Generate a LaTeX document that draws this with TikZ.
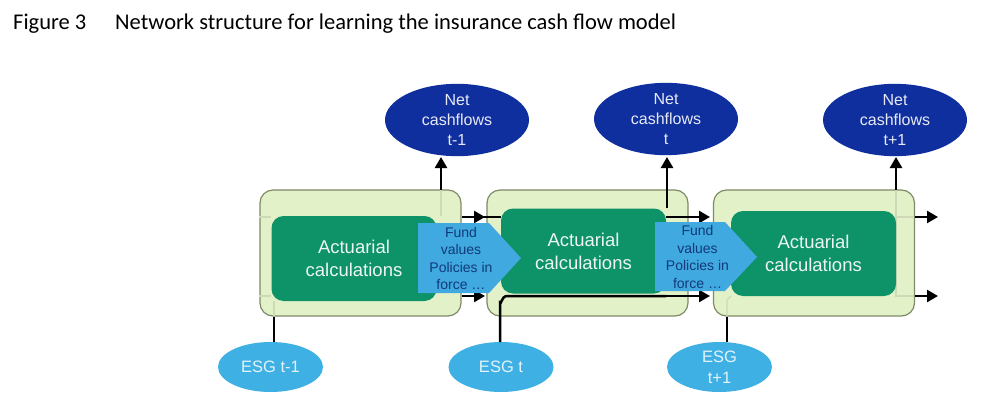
\documentclass[tikz,border=0pt]{standalone}
\usepackage{fontspec}
\setmainfont{Liberation Sans}
\newfontfamily\titlefont{Carlito}
\usetikzlibrary{calc,arrows.meta,shapes.geometric}
\definecolor{boxfill}{HTML}{E2F1C8}
\definecolor{boxline}{HTML}{7F8A66}
\definecolor{faintline}{HTML}{CFD9B8}
\definecolor{calcfill}{HTML}{0E9268}
\definecolor{tagfill}{HTML}{3FA9E0}
\definecolor{tagtext}{HTML}{123A7A}
\definecolor{netfill}{HTML}{0F2F9E}
\definecolor{esgfill}{HTML}{3FB0E3}
\tikzset{
    outerbox/.style={draw=boxline, fill=boxfill, line width=1.2pt, rounded corners=13pt,
        minimum width=201pt, minimum height=126pt},
    calcbox/.style={fill=calcfill, rounded corners=12pt, minimum width=165pt, minimum height=85pt,
        text=white!92!calcfill, font=\fontsize{18.5}{23}\selectfont, align=center},
    tagtxt/.style={text=tagtext, font=\fontsize{14}{17.5}\selectfont, align=center},
    netnode/.style={ellipse, fill=netfill, minimum width=144pt, minimum height=71pt, inner sep=0pt,
        text=white!90!netfill, font=\fontsize{16}{20}\selectfont, align=center},
    esgnode/.style={ellipse, fill=esgfill, minimum width=105pt, minimum height=50pt, inner sep=0pt,
        text=white!85!esgfill, font=\fontsize{16.5}{21}\selectfont, align=center},
    titletxt/.style={anchor=west, inner sep=0pt, font=\titlefont\fontsize{22.5}{26}\selectfont},
    flow/.style={line width=2.5pt, -{Triangle[length=11pt,width=12pt]}},
    wire/.style={line width=2.5pt},
    faint/.style={faintline, line width=1.2pt}
}
\begin{document}
\begin{tikzpicture}[x=1pt,y=-1pt]
    \useasboundingbox (0,0) rectangle (985,417);
    \fill[white] (0,0) rectangle (985,417);

    \node (fignum) [titletxt] at (13,24) {Figure 3};
    \node (title) [titletxt] at (115,24) {Network structure for learning the insurance cash flow model};

    % the three steps
    \node (box1) [outerbox] at (360.5,253) {};
    \node (calc1) [calcbox] at (354,258.5) {Actuarial\\calculations};
    \node (box2) [outerbox] at (587.5,253) {};
    \node (box3) [outerbox] at (814,253) {};

    % seen through the boxes
    \draw[faint] (box1.west |- 0,217) -- (calc1.west |- 0,217);
    \draw[faint] (box1.west |- 0,296) -- (calc1.west |- 0,296);
    \draw[faint] (441,190) -- (441,216);
    \draw[faint] (274,301) -- (274,316);
    \draw[faint] (896,190) -- (896,296) -- (914,296);
    \draw[faint] (896,217) -- (914,217);
    \draw[faint] (727,316) -- (727,300) -- (731,296);

    \node (calc2) [calcbox] at (583.5,251) {Actuarial\\calculations};
    \node (calc3) [calcbox] at (813.5,253.5) {Actuarial\\calculations};

    % outputs and inputs
    \node (net1) [netnode] at (457,120) {Net\\cashflows\\t-1};
    \node (net2) [netnode] at (666,119) {Net\\cashflows\\t};
    \node (net3) [netnode] at (895,120) {Net\\cashflows\\t+1};
    \node (esg1) [esgnode] at (270.5,367) {ESG t-1};
    \node (esg2) [esgnode] at (501,367) {ESG t};
    \node (esg3) [esgnode] at (719.5,367) {ESG\\t+1};

    \draw[flow] (441,190) -- (441,157);
    \draw[flow] (667,208) -- (667,157);
    \draw[flow] (896,190) -- (896,157);

    \draw[wire] (box1.south -| 274,0) -- (274,342);
    \draw[wire] (500,342) -- (500,303) to[out=-90,in=180] (506,296) -- (calc2.south east |- 0,296);
    \draw[wire] (box3.south -| 727,0) -- (727,342);

    % state passed along
    \draw[flow] (box1.east |- 0,217) -- (485,217);
    \draw[wire] (483,217) -- (calc2.west |- 0,217);
    \draw[flow] (box1.east |- 0,296) -- (485,296);
    \draw[flow] (calc2.east |- 0,217) -- (710,217);
    \draw[flow] (calc2.east |- 0,296) -- (710,296);
    \draw[flow] (box3.east |- 0,217) -- (938,217);
    \draw[flow] (box3.east |- 0,296) -- (938,296);

    % what goes from one step to the next
    \fill[tagfill] (418,223) -- (489,223) -- (521,258) -- (489,293) -- (418,293) -- cycle;
    \node (tag1) [tagtxt] at (461,258.5) {Fund\\values\\Policies in\\force \dots};
    \fill[tagfill] (655,222) -- (725,222) -- (757,257) -- (725,291) -- (655,291) -- cycle;
    \node (tag2) [tagtxt] at (697.5,257) {Fund\\values\\Policies in\\force \dots};
\end{tikzpicture}
\end{document}
